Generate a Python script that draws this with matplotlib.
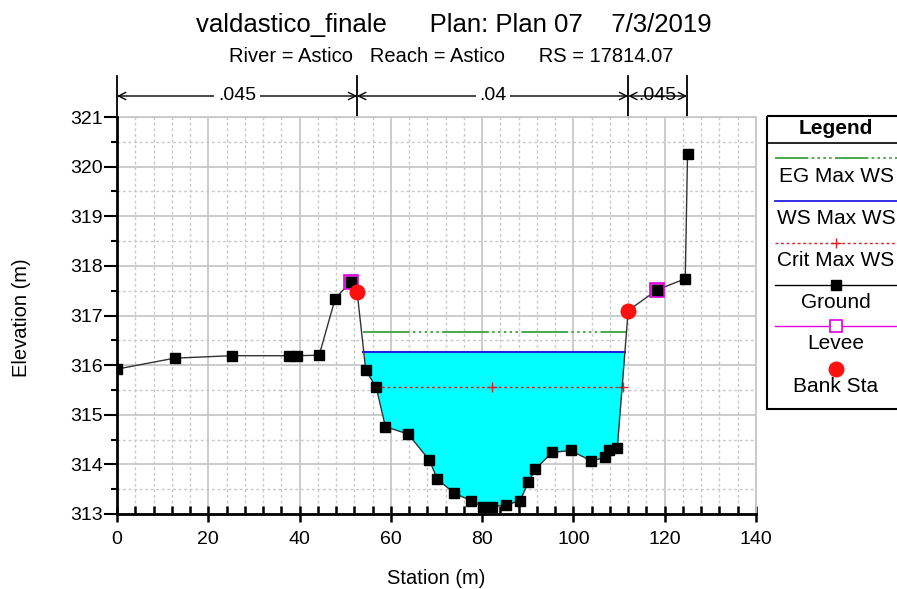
import numpy as np
import matplotlib
matplotlib.use("Agg")
import matplotlib.pyplot as plt
from matplotlib.ticker import MultipleLocator
from matplotlib.transforms import blended_transform_factory
from matplotlib.patches import Rectangle

plt.rcParams['font.family'] = ['Liberation Sans', 'DejaVu Sans']

# ---------------- data ----------------
station = [0, 12.6, 25.1, 37.7, 39.5, 44.3, 47.8, 51.2, 52.6, 54.5, 56.8, 58.8,
           63.8, 68.4, 70.2, 73.9, 77.5, 80.2, 82.1, 85.2, 88.3, 90.1, 91.6,
           95.3, 99.4, 103.9, 106.9, 107.9, 109.6, 112.0, 118.4, 124.5, 125.0]
elevation = [315.92, 316.14, 316.19, 316.19, 316.19, 316.20, 317.34, 317.68,
             317.48, 315.90, 315.55, 314.76, 314.61, 314.09, 313.70, 313.42,
             313.27, 313.15, 313.15, 313.18, 313.27, 313.64, 313.90, 314.24,
             314.28, 314.07, 314.14, 314.28, 314.32, 317.10, 317.52, 317.74,
             320.26]
levee_sta = [51.2, 118.4]
levee_elev = [317.68, 317.52]
bank_sta = [52.6, 112.0]
bank_elev = [317.48, 317.10]
ws_elev = 316.27
ws_sta = [54.0, 111.2]
eg_elev = 316.66
eg_sta = [54.0, 111.7]
crit_elev = 315.55
crit_sta = [56.8, 82.1, 110.8]
n_breaks = [0, 52.6, 112.0, 124.9]
n_values = [".045", ".04", ".045"]

title = "valdastico_finale      Plan: Plan 07    7/3/2019"
subtitle = "River = Astico   Reach = Astico      RS = 17814.07"

# ---------------- figure ----------------
W, H = 897, 589
fig = plt.figure(figsize=(W / 100, H / 100), dpi=100)
ax = fig.add_axes([117 / W, 1 - 514 / H, 639 / W, 397 / H])

sta = np.array(station)
elv = np.array(elevation)

ax.set_xlim(0, 140)
ax.set_ylim(313, 321)
ax.xaxis.set_major_locator(MultipleLocator(20))
ax.xaxis.set_minor_locator(MultipleLocator(4))
ax.yaxis.set_major_locator(MultipleLocator(1))
ax.yaxis.set_minor_locator(MultipleLocator(0.5))

gcol = '#c8c8c8'
ax.grid(which='major', color=gcol, lw=1.3, ls='-', zorder=0)
ax.grid(which='minor', color=gcol, lw=1.0, ls=(0, (2, 2)), zorder=0)
ax.set_axisbelow(True)

# water fill
mask = (sta >= levee_sta[0]) & (sta <= levee_sta[1]) & (elv <= ws_elev)
ax.fill_between(sta, elv, ws_elev, where=mask, interpolate=True,
                color='#00ffff', lw=0, zorder=1)

# EG
ax.plot(eg_sta, [eg_elev] * len(eg_sta), color='#2e9a2e', lw=1.2,
        dashes=(28, 2, 1.5, 2, 1.5, 2, 1.5, 2, 1.5, 2, 1.5, 2), zorder=3)
# WS
ax.plot(ws_sta, [ws_elev] * len(ws_sta), color='#2020e0', lw=1.5, zorder=3)
# Crit
ax.plot(crit_sta, [crit_elev] * len(crit_sta), color='#e02020', lw=1.0,
        ls=(0, (2, 2)), marker='+', ms=7, mew=1.0, zorder=3)
# Ground line
ax.plot(sta, elv, color='#333333', lw=1.0, zorder=4)
# Levee
ax.plot(levee_sta, levee_elev, ls='none', marker='s', ms=10, mfc='#e040e0',
        mec='#e000e0', mew=1.2, zorder=5)
# Ground markers
ax.plot(sta, elv, ls='none', marker='s', ms=6.5, color='black', zorder=6)
# Bank stations
ax.plot(bank_sta, bank_elev, ls='none', marker='o', ms=10.5, color='#ff1010',
        zorder=7)

# spines / ticks
for s in ['top', 'right']:
    ax.spines[s].set_color(gcol)
    ax.spines[s].set_linewidth(1.3)
for s in ['left', 'bottom']:
    ax.spines[s].set_linewidth(2.0)
    ax.spines[s].set_zorder(8)
ax.tick_params(axis='x', which='major', direction='inout', length=12, width=1.8,
               labelsize=14, pad=6)
ax.tick_params(axis='x', which='minor', direction='in', length=6, width=1.8)
ax.tick_params(axis='y', which='major', direction='out', length=9.5, width=1.5,
               labelsize=14, pad=0.5)
ax.tick_params(axis='y', which='minor', direction='out', length=4, width=1.5)

# axis labels
fig.text(436 / W, 1 - 578 / H, "Station (m)", ha='center', va='center',
         fontsize=14.5)
fig.text(22 / W, 1 - 318 / H, "Elevation (m)", ha='center', va='center',
         rotation=90, fontsize=14.5)

# titles
fig.text(454 / W, 1 - 25 / H, title, ha='center', va='center', fontsize=18.5)
fig.text(451 / W, 1 - 57 / H, subtitle, ha='center', va='center', fontsize=14.5)

# Manning's n bar
tr = blended_transform_factory(ax.transData, ax.transAxes)
y_bar = (514 - 96) / 397
y_top = (514 - 76) / 397
for xb in n_breaks:
    ax.plot([xb, xb], [1.0, y_top], transform=tr, color='black', lw=1.3,
            clip_on=False)
for i, lab in enumerate(n_values):
    x0, x1 = n_breaks[i], n_breaks[i + 1]
    ax.annotate('', xy=(x0, y_bar), xytext=(x1, y_bar), xycoords=tr,
                textcoords=tr,
                arrowprops=dict(arrowstyle='<->', color='black', lw=1.0,
                                shrinkA=0, shrinkB=0,
                                mutation_scale=13))
    ax.text((x0 + x1) / 2, y_bar, lab, transform=tr, ha='center',
            va='center', fontsize=14,
            bbox=dict(facecolor='white', edgecolor='none', pad=2.5)
            if i < 2 else None, clip_on=False, zorder=10)

# Legend (manual)
lx0 = 767 / W
lax = fig.add_axes([lx0, 1 - 409 / H, 160 / W, 293 / H])
lax.set_xlim(0, 160)
lax.set_ylim(409, 116)
lax.axis('off')
lax.add_patch(Rectangle((0, 116), 160, 293, fill=False, ec='black', lw=1.5,
                        clip_on=False))
lax.plot([0, 160], [143, 143], color='black', lw=1.2, clip_on=False)
cx = 69
fs = 15
lax.text(cx, 129, "Legend", ha='center', va='center', fontsize=fs,
         fontweight='bold')
lax.plot([8, 160], [158, 158], color='#2e9a2e', lw=1.2,
         dashes=(20, 2, 1.5, 2, 1.5, 2, 1.5, 2, 1.5, 2), clip_on=False)
lax.text(cx, 177, "EG Max WS", ha='center', va='center', fontsize=fs)
lax.plot([8, 160], [201, 201], color='#2020e0', lw=1.3, clip_on=False)
lax.text(cx, 219, "WS Max WS", ha='center', va='center', fontsize=fs)
lax.plot([8, 160], [243, 243], color='#e02020', lw=1.0, ls=(0, (2, 2)),
         clip_on=False)
lax.plot([69], [243], marker='+', ms=7, color='#e02020', clip_on=False)
lax.text(cx, 261, "Crit Max WS", ha='center', va='center', fontsize=fs)
lax.plot([8, 160], [285, 285], color='black', lw=1.0, clip_on=False)
lax.plot([69], [285], marker='s', ms=6.5, color='black', clip_on=False)
lax.text(cx, 303, "Ground", ha='center', va='center', fontsize=fs)
lax.plot([8, 160], [326, 326], color='#e000e0', lw=1.0, clip_on=False)
lax.plot([69], [326], marker='s', ms=9, mfc='white', mec='#e000e0', mew=1.2,
         clip_on=False)
lax.text(cx, 344, "Levee", ha='center', va='center', fontsize=fs)
lax.plot([69], [369], marker='o', ms=10.5, color='#ff1010', clip_on=False)
lax.text(cx, 387, "Bank Sta", ha='center', va='center', fontsize=fs)

fig.savefig("out.png", dpi=100)
